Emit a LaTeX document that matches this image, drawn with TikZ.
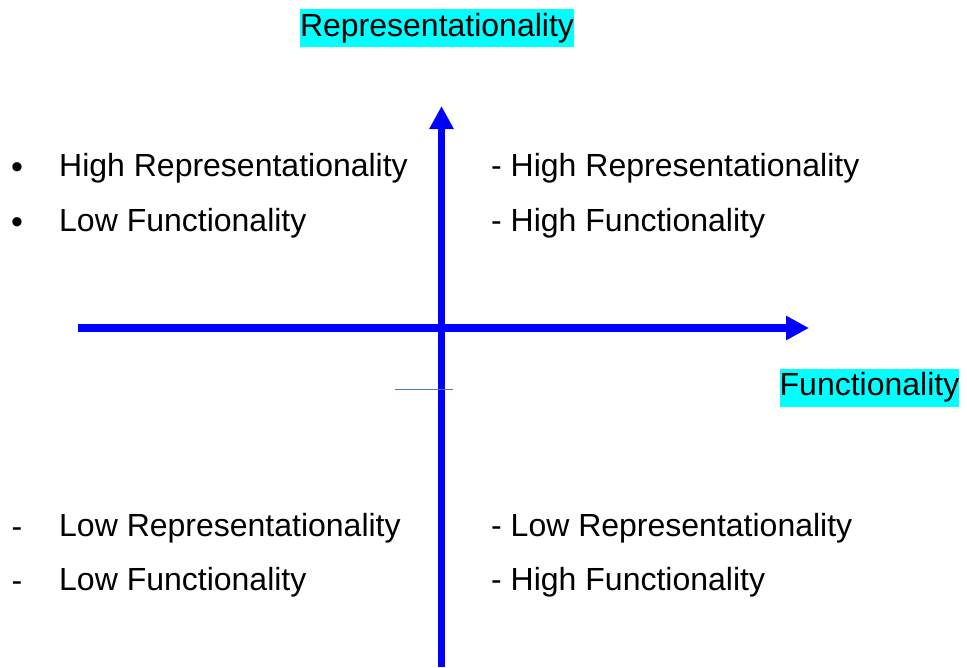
\documentclass[tikz,border=0pt]{standalone}
\usepackage{fontspec}
\setmainfont{Liberation Sans}
\usetikzlibrary{arrows.meta}
\definecolor{thinline}{RGB}{80,120,180}
\definecolor{hlcyan}{RGB}{0,255,255}
\definecolor{axisblue}{RGB}{0,0,255}
\begin{document}
\begin{tikzpicture}[x=1pt,y=-1pt,
  txt/.style={font=\fontsize{32}{38}\selectfont, inner sep=0pt, anchor=base west},
  bulletmark/.style={font=\fontsize{34}{40}\selectfont, inner sep=0pt, anchor=center},
  dashmark/.style={font=\fontsize{32}{38}\selectfont, inner sep=0pt, anchor=center},
  hilite/.style={fill=hlcyan, font=\fontsize{32}{38}\selectfont, inner sep=0pt, minimum height=38pt},
  axis/.style={draw=axisblue, line width=7.5pt, -{Triangle[length=23pt,width=23pt,fill=axisblue]}}]
\useasboundingbox (0,0) rectangle (967,667);
% axes
\coordinate (hl) at (78,328);
\coordinate (hr) at (809,328);
\coordinate (vb) at (441.5,667);
\coordinate (vt) at (441.5,106);
\draw[axis] (hl) -- (hr);
\draw[axis] (vb) -- (vt);
% small thin line
\coordinate (sl) at (395,389);
\coordinate (sr) at (453,389);
\draw[thinline, line width=1pt] (sl) -- (sr);
% axis labels
\node[hilite, minimum width=274pt] (ylab) at (437,28) {Representationality};
\node[hilite, minimum width=179pt] (xlab) at (869.5,387.5) {Functionality};
% top-left
\node[bulletmark] (b1) at (17,171) {•};
\node[bulletmark] (b2) at (17,226) {•};
\node[txt] (tl1) at (59,176.5) {High Representationality};
\node[txt] (tl2) at (59,231.5) {Low Functionality};
% top-right
\node[txt] (tr1) at (491,176.5) {- High Representationality};
\node[txt] (tr2) at (491,231.5) {- High Functionality};
% bottom-left
\node[dashmark] (d1) at (17,533) {-};
\node[dashmark] (d2) at (17,587) {-};
\node[txt] (bl1) at (59,536) {Low Representationality};
\node[txt] (bl2) at (59,590) {Low Functionality};
% bottom-right
\node[txt] (br1) at (491,536) {- Low Representationality};
\node[txt] (br2) at (491,590) {- High Functionality};
\end{tikzpicture}
\end{document}
